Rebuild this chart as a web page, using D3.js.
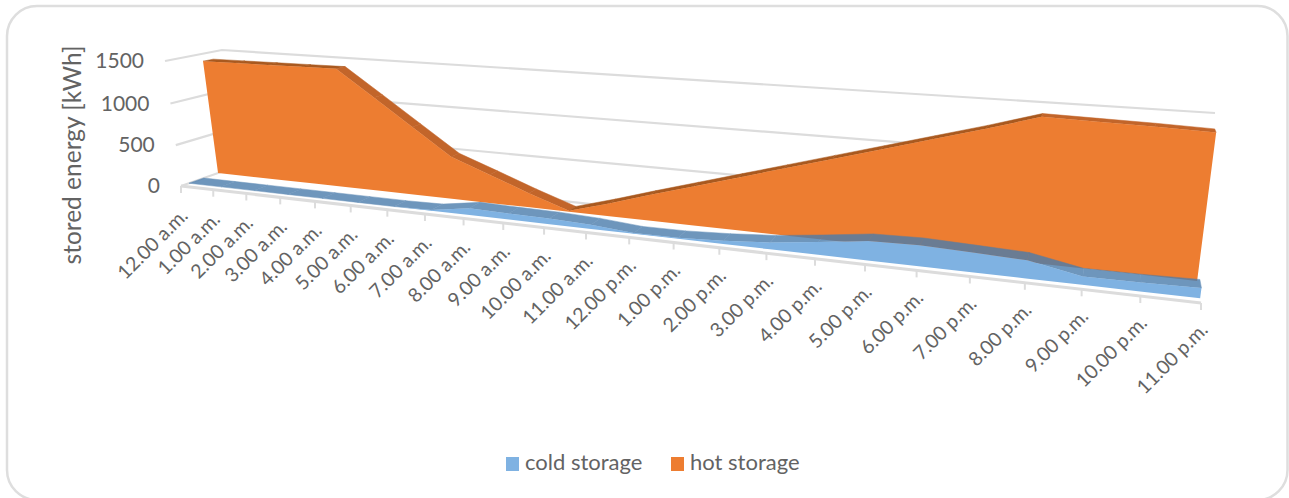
<!DOCTYPE html>
<html>
<head>
<meta charset="utf-8">
<script src="https://cdn.jsdelivr.net/npm/d3@7"></script>
<style>
  html, body { margin: 0; padding: 0; background: #fff; }
  svg { display: block; font-family: Lato, "Open Sans", sans-serif; }
</style>
</head>
<body>
<svg id="chart" width="1289" height="498"></svg>
<script>
// Hourly stored energy, kWh
const hours = ["12.00 a.m.","1.00 a.m.","2.00 a.m.","3.00 a.m.","4.00 a.m.","5.00 a.m.","6.00 a.m.","7.00 a.m.","8.00 a.m.","9.00 a.m.","10.00 a.m.","11.00 a.m.","12.00 p.m.","1.00 p.m.","2.00 p.m.","3.00 p.m.","4.00 p.m.","5.00 p.m.","6.00 p.m.","7.00 p.m.","8.00 p.m.","9.00 p.m.","10.00 p.m.","11.00 p.m."];
const coldStorage = [0,0,0,0,0,0,0,8,77,69,64,45,8,12,35,71,130,195,208,192,175,79,83,94];
const hotStorage = [1410,1414,1418,1422,1426,1120,810,500,335,165,10,145,290,430,570,710,850,990,1130,1270,1420,1410,1400,1385];
const energyTicks = [0,500,1000,1500];
const seriesNames = ["cold storage","hot storage"];

const svg = d3.select("#chart");

// Frame of the 3D box in screen space: corners at the front and back of the floor and ceiling
const frontQuad = [[181,186],[1201,303],[1223,132],[165,61]];
const backQuad  = [[238,166],[1195,269],[1215,113],[222,50]];

// Depth of each series ribbon inside the box
const coldDepth = [0.14, 0.40];
const hotDepth  = [0.65, 0.83];

const timeScale = d3.scalePoint().domain(hours).range([0,1]);
const energyScale = d3.scaleLinear().domain([0,1500]).range([0,1]);

// Projective map of the unit square onto a quad
function squareToQuad(q) {
  const [[x0,y0],[x1,y1],[x2,y2],[x3,y3]] = q;
  const dx1 = x1-x2, dx2 = x3-x2, dx3 = x0-x1+x2-x3;
  const dy1 = y1-y2, dy2 = y3-y2, dy3 = y0-y1+y2-y3;
  const den = dx1*dy2-dx2*dy1;
  const g = (dx3*dy2-dx2*dy3)/den, h = (dx1*dy3-dx3*dy1)/den;
  const a = x1-x0+g*x1, b = x3-x0+h*x3, d = y1-y0+g*y1, e = y3-y0+h*y3;
  return (u,v) => {
    const w = g*u+h*v+1;
    return [(a*u+b*v+x0)/w, (d*u+e*v+y0)/w];
  };
}
function planeAt(depth) {
  return squareToQuad(frontQuad.map((p,i) => [
    p[0]+(backQuad[i][0]-p[0])*depth,
    p[1]+(backQuad[i][1]-p[1])*depth
  ]));
}
const project = (hour,value,depth) => planeAt(depth)(timeScale(hour), energyScale(value));
const outline = d3.line();

// Gridlines on the side and back walls
const walls = svg.append("g").attr("fill","none").attr("stroke","#dcdcdc").attr("stroke-width",2.2);
energyTicks.forEach(v => {
  walls.append("path").attr("d", outline([
    project(hours[0],v,0), project(hours[0],v,1), project(hours[hours.length-1],v,1)
  ]));
});

// Draws one ribbon: the top surface between two depths, then its front face.
// The surface segments share a group so that its opacity applies once across their seams.
function drawRibbon(values, depths, faceColor, topColor, topOpacity) {
  const topGroup = svg.append("g").attr("opacity", topOpacity);
  topGroup.selectAll("path")
    .data(d3.pairs(hours.map((h,i) => ({h, v: values[i]}))))
    .join("path")
    .attr("fill", d => typeof topColor === "function" ? topColor(d[1].v-d[0].v) : topColor)
    .attr("stroke", d => typeof topColor === "function" ? topColor(d[1].v-d[0].v) : topColor)
    .attr("stroke-width", 0.5)
    .attr("d", d => outline([
      project(d[0].h,d[0].v,depths[0]), project(d[1].h,d[1].v,depths[0]),
      project(d[1].h,d[1].v,depths[1]), project(d[0].h,d[0].v,depths[1])
    ]) + "Z");
  svg.append("path")
    .attr("fill", faceColor)
    .attr("d", outline([
      ...hours.map((h,i) => project(h,values[i],depths[0])),
      ...hours.map(h => project(h,0,depths[0])).reverse()
    ]) + "Z");
}

drawRibbon(hotStorage, hotDepth, "#ed7d31", s => s > 0 ? "#a9591f" : "#c2652a", 1);
drawRibbon(coldStorage, coldDepth, "#7fb2e2", "#4a7cac", 0.8);

// Hour axis along the front edge of the floor
const axis = svg.append("g");
axis.append("path")
  .attr("fill","none").attr("stroke","#dcdcdc").attr("stroke-width",3)
  .attr("d", outline([project(hours[0],0,0), project(hours[hours.length-1],0,0)]));
const labelDrop = d3.scaleLinear().domain([0,1]).range([31,28]);
hours.forEach(h => {
  const [x,y] = project(h,0,0);
  axis.append("line").attr("x1",x).attr("x2",x).attr("y1",y).attr("y2",y+7)
    .attr("stroke","#dcdcdc").attr("stroke-width",2);
  axis.append("text")
    .attr("transform",`translate(${x+8},${y+labelDrop(timeScale(h))}) rotate(-45)`)
    .attr("text-anchor","end")
    .attr("font-size",19.5).attr("fill","#636363")
    .text(h);
});

// Energy tick labels beside the side wall
energyTicks.forEach(v => {
  const [x,y] = project(hours[0],v,0);
  svg.append("text").attr("x",x-21).attr("y",y+7)
    .attr("text-anchor","end").attr("font-size",21).attr("fill","#636363")
    .text(d3.format("d")(v));
});

svg.append("text")
  .attr("transform","translate(81,155) rotate(-90)")
  .attr("text-anchor","middle").attr("font-size",24.5).attr("fill","#636363")
  .text("stored energy [kWh]");

// Legend
const legendItems = [
  {name: seriesNames[0], color:"#7fb2e2", sx:506, tx:525},
  {name: seriesNames[1], color:"#ed7d31", sx:671, tx:690}
];
const legend = svg.append("g");
legend.selectAll("rect").data(legendItems).join("rect")
  .attr("x",d=>d.sx).attr("y",457).attr("width",13).attr("height",14).attr("fill",d=>d.color);
legend.selectAll("text").data(legendItems).join("text")
  .attr("x",d=>d.tx).attr("y",470).attr("font-size",22).attr("fill","#636363")
  .text(d=>d.name);

// Rounded chart frame
svg.append("rect").attr("x",7).attr("y",6).attr("width",1280.5).attr("height",494).attr("rx",30)
  .attr("fill","none").attr("stroke","#dedede").attr("stroke-width",2.5);
</script>
</body>
</html>
